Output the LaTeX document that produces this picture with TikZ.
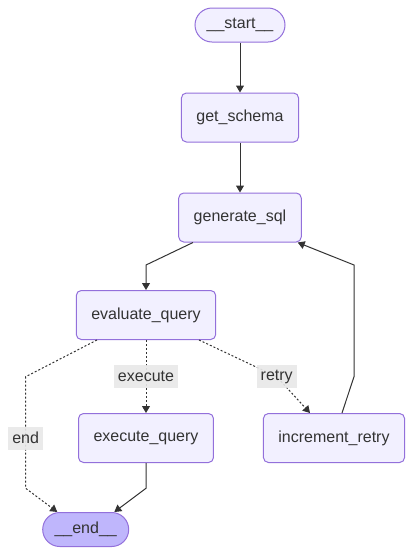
\documentclass[tikz,border=0pt]{standalone}
\usepackage{fontspec}
\setmainfont{Liberation Sans}
\usepackage{tikz}
\usetikzlibrary{arrows.meta, positioning}
\definecolor{nodefill}{HTML}{F2F0FF}
\definecolor{nodeline}{HTML}{9370DB}
\definecolor{termfill}{HTML}{BFB6FC}
\definecolor{edgeink}{HTML}{333333}
\definecolor{labelfill}{HTML}{E8E8E8}

\begin{document}
\begin{tikzpicture}[
    x=1pt, y=-1pt,
    font=\fontsize{16pt}{19pt}\selectfont,
    text=edgeink,
    %% -- Node styles ------------------------------------------------------
    %%
    %% task: rounded box for one step of the graph.
    task/.style={
        draw=nodeline,
        fill=nodefill,
        line width=1pt,
        rounded corners=5pt,
        minimum height=49pt,
        inner xsep=15pt,
    },
    %% terminal: stadium for the entry and exit points
    %%   (corner radius = half the height, so the ends are half circles).
    terminal/.style={
        draw=nodeline,
        fill=nodefill,
        line width=1pt,
        rounded corners=17pt,
        minimum height=34pt,
        minimum width=86pt,
    },
    %% -- Edge styles ------------------------------------------------------
    flow/.style={
        -{Triangle[length=7pt, width=8pt]},
        draw=edgeink,
        line width=1pt,
    },
    branch/.style={flow, dash pattern=on 2pt off 2pt},
    %% -- Edge label style -------------------------------------------------
    elabel/.style={fill=labelfill, fill opacity=0.9, text opacity=1,
        inner xsep=4pt, inner ysep=0pt, minimum height=23pt},
]
\useasboundingbox (0,0) rectangle (413,555);

%% -- Place nodes here -----------------------------------------------------

\node[terminal, minimum width=90pt]                 (Start) at (240,25) {\_\_start\_\_};
\node[task, below=50pt of Start]                    (Get_Schema) {get\_schema};
\node[task, below=50pt of Get_Schema]               (Generate_SQL) {generate\_sql};
\node[task]                                         (Evaluate_Query) at (146,315) {evaluate\_query};
\node[task, below=73pt of Evaluate_Query]           (Execute_Query) {execute\_query};
\node[task]                                         (Increment_Retry) at (334,438) {increment\_retry};
\node[terminal, fill=termfill]                      (End) at (85.7,529.5) {\_\_end\_\_};

%% -- Draw edges here ------------------------------------------------------

%% main line (solid):
\draw[flow] (Start) -- (Get_Schema);
\draw[flow] (Get_Schema) -- (Generate_SQL);
\draw[flow] ([xshift=-47pt]Generate_SQL.south) -- (146,265) -- (Evaluate_Query.north);
\draw[flow] (Execute_Query.south) -- (146,488.3) -- ([xshift=28.6pt]End.north);
\draw[flow] ([xshift=8pt]Increment_Retry.north) -- (354,376.7) -- (354,265) -- ([xshift=57.7pt]Generate_SQL.south);

% conditional branches (dotted) out of evaluate_query:
\draw[branch] ([xshift=-49pt]Evaluate_Query.south) -- (25.7,376.7) -- node[elabel, pos=0.55] {end} (25.7,488.3) -- ([xshift=-28.4pt]End.north);
\draw[branch] (Evaluate_Query.south) -- node[elabel] {execute} (Execute_Query.north);
\draw[branch] ([xshift=53pt]Evaluate_Query.south) -- (276.7,376.7) node[elabel] {retry} -- ([xshift=-24pt]Increment_Retry.north);

\end{tikzpicture}
\end{document}
